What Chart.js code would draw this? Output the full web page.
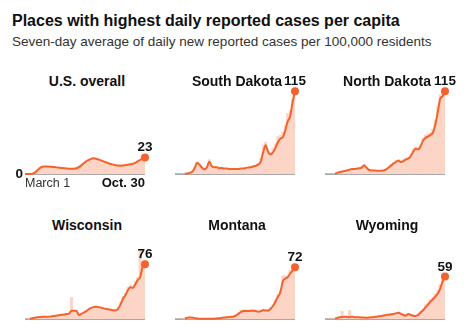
<!DOCTYPE html>
<html>
<head>
<meta charset="utf-8">
<script src="https://cdn.jsdelivr.net/npm/chart.js@4"></script>
<style>
  body { margin: 0; background: #fff; font-family: "Liberation Sans", Arial, sans-serif; }
  #wrap { position: relative; width: 471px; height: 336px; overflow: hidden; }
  .head { position: absolute; left: 12px; margin: 0; white-space: nowrap; }
  #title { top: 11px; font-size: 16px; line-height: 20px; font-weight: bold; color: #111; }
  #sub { top: 33px; font-size: 13.5px; line-height: 18px; color: #333; }
  .ptitle { position: absolute; width: 150px; text-align: center; font-size: 14px; line-height: 18px;
            font-weight: bold; color: #111; }
  canvas { position: absolute; }
</style>
</head>
<body>
<div id="wrap">
  <div id="title" class="head">Places with highest daily reported cases per capita</div>
  <div id="sub" class="head">Seven-day average of daily new reported cases per 100,000 residents</div>
</div>
<script>
// 5-day steps from March 1 to Oct. 30
const dates = ['Mar 1','Mar 6','Mar 11','Mar 16','Mar 21','Mar 26','Mar 31','Apr 5','Apr 10','Apr 15',
  'Apr 20','Apr 25','Apr 30','May 5','May 10','May 15','May 20','May 25','May 30','Jun 4',
  'Jun 9','Jun 14','Jun 19','Jun 24','Jun 29','Jul 4','Jul 9','Jul 14','Jul 19','Jul 24',
  'Jul 29','Aug 3','Aug 8','Aug 13','Aug 18','Aug 23','Aug 28','Sep 2','Sep 7','Sep 12',
  'Sep 17','Sep 22','Sep 27','Oct 2','Oct 7','Oct 12','Oct 17','Oct 22','Oct 27','Oct 30'];
const axisTicks = ['March 1', 'Oct. 30'];
const zeroTick = '0';

const places = ['U.S. overall', 'South Dakota', 'North Dakota', 'Wisconsin', 'Montana', 'Wyoming'];

// seven-day average per 100,000
const usAvg = [0,0,0.1,0.5,2,5,8,10,10.5,10.5,
  10.2,10,9.6,9.2,8.8,8.4,8,7.6,7.4,7.3,
  7.4,8,9.5,12,15,17.5,19.5,21,21.8,21.3,
  20.2,19,17.5,16.3,15,14,13,12.3,11.8,11.5,
  11.8,12.3,12.8,13.5,14.3,15.5,17.5,19.5,22,23];
const sdAvg = [null,null,null,null,0.2,0.8,1.5,3,8,15.5,
  13,9,6.5,9,17,11,9.5,9.5,8,8.5,
  7.5,7.5,7,7,7,7,7,7.5,7.5,8.5,
  9,9.5,10.5,11.5,13,17,30,40,31,27,
  30,36,44,49,51,60,73,80,99,115];
const ndAvg = [null,null,null,null,0.5,1.5,2.8,3.5,4.3,5,
  6,7,7,7.4,8,9,12,8.5,5.5,5,
  4.8,4.6,4.6,4.6,4.8,6.5,9,12,14.5,17,
  18.5,16.5,18,20,21.5,24.5,31,35,34,38,
  46,50,52,54,57,68,85,104,108,115];
const wiAvg = [null,null,0.2,1,1.8,2.4,2.8,3,3.2,3.2,
  3.3,3.8,4.3,4.8,5.3,5.8,6.3,7,7.6,11.5,
  11.6,11.5,5.5,7,9,11,13.5,15.5,16.5,17,
  16.5,15.8,14.8,14,13.5,12.8,12,11.8,14,20,
  28,33,40,44,43,48,54,58,72,76];
const mtAvg = [null,null,null,null,0.8,1.6,2.2,2,1.2,0.8,
  0.5,0.3,0.2,0.2,0.2,0.3,0.5,0.8,1,1.5,
  2,2.3,2.6,3,3.5,5,7.5,10,11,11,
  11,11.3,11.6,11,10,10.8,12,11.8,11.6,14,
  18,24,31,37,52,56,58,63,67,72];
const wyAvg = [null,null,null,null,0.5,1.5,2.3,2.8,3.2,2.8,
  2.5,3.5,2.5,2.3,2.3,2.2,2,1.9,2,2.3,
  2.8,3.2,3.8,4.2,5,5.6,6,6.5,7,7.8,
  8.8,7,5.6,4.6,7,5.5,4.5,4.2,5.5,8.8,
  12,16,19.5,24,27,31,35,42,52,59];

// daily reported cases per 100,000
const usDaily = [0,0,0.1,0.6,2.3,5.5,8.5,10.3,10.8,11,
  10.5,10.3,9.8,9.5,9,8.6,8.2,7.9,7.6,7.5,
  7.8,8.5,10,12.5,15.5,18,20,21.5,22.3,21.8,
  20.5,19.4,17.8,16.6,15.4,14.3,13.4,12.7,12.2,11.8,
  12.2,12.7,13.3,14,14.8,16.2,18.2,20.3,22.5,23.5];
const sdDaily = [0,0,0,0,0.4,1,2,3.5,9,17,
  14,8,7,10,20,12,10,10,8.5,9.5,
  8,8,7.5,7.5,8,7,7.5,8,8,9.5,
  9.5,10.5,12,12,15,22,40,44,33,30,
  36,42,52,54,58,68,84,88,104,116];
const ndDaily = [0,0,0,0,0.6,1.8,3,4,4.8,5.5,
  6.5,7.5,7.5,8,9,10,13,9,6,5.5,
  5,5,5,5,5.5,7,10,13,16,19,
  20,18,20,22,24,27,35,38,37,42,
  50,54,56,58,62,75,94,110,112,118];
const wiDaily = [0,0,0.3,1.2,2,2.6,3,3.2,3.4,3.4,
  3.5,4,4.6,5,5.6,6,6.7,7.4,8,30,
  12,10,6,7.5,9.5,11.5,14,16,17.5,18,
  17,16.5,15.5,14.5,14,13.5,12.5,12.5,16,23,
  31,36,44,47,46,52,58,96,76,82];
const mtDaily = [0,0,0,0,1,2,2.6,2.4,1.5,1,
  0.6,0.4,0.3,0.3,0.3,0.4,0.6,1,1.3,1.8,
  2.4,2.7,3,3.5,4,6,9,12,13,12.5,
  12,13,13,12.5,11,12.5,14,13,13,16,
  20,27,34,40,60,60,60,68,70,74];
const wyDaily = [0,0,0,0,0.8,2,3,11,3.5,3,
  12,3.8,2.8,2.6,2.6,2.5,2.3,2.2,2.3,2.6,
  3.2,3.6,4.3,4.8,5.8,6.5,7,7.5,8,9,
  10,8,6.5,5.5,8,6.5,5.5,5,6.5,10.5,
  14,20,22,27,30,35,40,48,55,61];

const avgs = [usAvg, sdAvg, ndAvg, wiAvg, mtAvg, wyAvg];
const dailies = [usDaily, sdDaily, ndDaily, wiDaily, mtDaily, wyDaily];

const ORANGE = '#f5622d';
const PINK = '#fdd5c6';
const PAD = { left: 20, right: 20, top: 40, bottom: 20 };
const colLeft = [25, 175, 325];
const rowBase = [174, 319];
const plotW = 120, plotH = 90;

// baseline, end value and (for the first panel) the axis labels
const panelMarks = {
  id: 'panelMarks',
  beforeDatasetsDraw(chart) {
    const { ctx, chartArea, scales } = chart;
    const y0 = scales.y.getPixelForValue(0);
    ctx.save();
    ctx.strokeStyle = '#8c8c8c';
    ctx.lineWidth = 1.5;
    ctx.beginPath();
    ctx.moveTo(chartArea.left, y0);
    ctx.lineTo(chartArea.right, y0);
    ctx.stroke();
    ctx.restore();
  },
  afterDatasetsDraw(chart, args, opts) {
    const { ctx, chartArea, scales } = chart;
    const line = chart.data.datasets[0].data;
    const pts = chart.getDatasetMeta(0).data;
    const last = pts[pts.length - 1];
    ctx.save();
    ctx.fillStyle = '#111';
    ctx.font = 'bold 13.5px "Liberation Sans", Arial, sans-serif';
    ctx.textAlign = 'center';
    ctx.textBaseline = 'alphabetic';
    ctx.fillText(String(line[line.length - 1]), last.x, last.y - 6);
    if (opts.axis) {
      const y0 = scales.y.getPixelForValue(0);
      ctx.textAlign = 'right';
      ctx.fillText(zeroTick, chartArea.left - 2, y0 + 4);
      ctx.font = '12.5px "Liberation Sans", Arial, sans-serif';
      ctx.fillStyle = '#333';
      ctx.textAlign = 'left';
      ctx.fillText(axisTicks[0], scales.x.getPixelForValue(0), y0 + 13);
      ctx.font = 'bold 13px "Liberation Sans", Arial, sans-serif';
      ctx.fillStyle = '#111';
      ctx.textAlign = 'right';
      ctx.fillText(axisTicks[1], scales.x.getPixelForValue(dates.length - 1), y0 + 13);
    }
    ctx.restore();
  }
};

const wrap = document.getElementById('wrap');

places.forEach((name, i) => {
  const col = i % 3, row = Math.floor(i / 3);
  const left = colLeft[col], base = rowBase[row];

  const t = document.createElement('div');
  t.className = 'ptitle';
  t.textContent = name;
  t.style.left = (left + 62 - 75) + 'px';
  t.style.top = (row === 0 ? 72 : 216) + 'px';
  wrap.appendChild(t);

  const cv = document.createElement('canvas');
  cv.width = plotW + PAD.left + PAD.right;
  cv.height = plotH + PAD.top + PAD.bottom;
  cv.style.left = (left - PAD.left) + 'px';
  cv.style.top = (base - plotH - PAD.top) + 'px';
  wrap.appendChild(cv);

  const n = avgs[i].length;
  new Chart(cv, {
    type: 'bar',
    data: {
      labels: dates,
      datasets: [
        {
          type: 'line',
          data: avgs[i],
          borderColor: ORANGE,
          borderWidth: 2,
          cubicInterpolationMode: 'monotone',
          pointRadius: c => (c.dataIndex === n - 1 ? 4 : 0),
          pointBackgroundColor: ORANGE,
          pointBorderWidth: 0,
          clip: false,
          order: 0
        },
        {
          type: 'bar',
          data: dailies[i],
          backgroundColor: PINK,
          barPercentage: 1,
          categoryPercentage: 1,
          order: 1
        }
      ]
    },
    options: {
      responsive: false,
      animation: false,
      devicePixelRatio: 1,
      layout: { padding: PAD },
      scales: {
        x: { display: false, offset: false },
        y: { display: false, min: 0, max: 125 }
      },
      plugins: {
        legend: { display: false },
        tooltip: { enabled: false },
        panelMarks: { axis: i === 0 }
      }
    },
    plugins: [panelMarks]
  });
});
</script>
</body>
</html>
